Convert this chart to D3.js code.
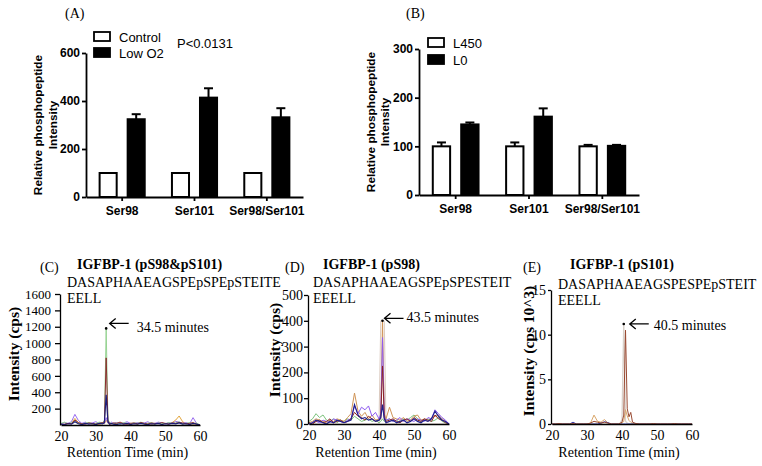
<!DOCTYPE html>
<html>
<head>
<meta charset="utf-8">
<script src="https://cdn.jsdelivr.net/npm/d3@7/dist/d3.min.js"></script>
<style>
  body { margin: 0; background: #fff; }
  svg { display: block; }
</style>
</head>
<body>
<svg id="fig" width="762" height="466"></svg>
<script>
// ---------- bar chart data (A, B) ----------
const groups = ["Ser98", "Ser101", "Ser98/Ser101"];

const aControl = [100, 100, 100];
const aControlErr = [0, 0, 0];
const aLowO2 = [324, 414, 332];
const aLowO2Err = [21, 39, 38];

const bL450 = [100, 100, 100];
const bL450Err = [8, 8, 3];
const bL0 = [145, 161, 101];
const bL0Err = [4, 17, 2];

// ---------- chromatogram data (C, D, E) ----------
const tC = [20,21,22,23,24,25,26,27,28,29,30,31,32,32.5,33,33.5,34,34.5,35,36,37,38,39,40,41,42,43,44,45,46,47,48,49,50,51,52,53,54,55,56,57,58,59,60];
const cGreen  = [20,35,15,30,45,20,10,25,30,15,20,35,25, 60,1180,70,30,20, 15,25,10,30,20,15,25,20,35,15,20,30,10,25,20,15,30,20,25,40,15,20,30,15,25,0];
const cRed    = [5,10,20,15,60,30,15,10,25,20,10,20,30, 40,820,50,20,15, 25,20,35,15,10,20,25,15,30,20,10,25,20,15,30,20,10,25,20,30,25,15,20,30,10,0];
const cPurple = [15,30,20,40,130,55,20,35,15,25,40,20,30, 20,90,25,15,35, 20,30,15,25,40,20,15,30,20,25,40,15,20,35,25,15,30,20,45,35,20,30,15,90,20,0];
const cOrange = [10,5,15,20,80,25,10,15,20,10,15,5,20, 15,60,20,10,15, 20,10,25,15,10,20,15,10,25,15,20,10,15,25,10,20,15,30,60,110,40,15,20,10,15,0];
const cNavy   = [10,5,15,10,40,15,5,20,10,15,5,20,15, 30,370,40,10,20, 10,5,15,10,20,5,15,10,20,10,5,15,10,20,5,15,10,20,15,25,10,15,5,20,10,0];

const tD = [20,21,22,23,24,25,26,27,28,29,30,31,32,33,34,35,36,37,38,39,40,40.5,41,41.5,42,43,44,45,46,47,48,49,50,51,52,53,54,55,56,57,58,59,60];
const dLight  = [0,0,0,0,0,0,0,0,0,0,0,0,0,0,0,0,0,0,0,0,0, 400,400,400, 0,0,0,0,0,0,0,0,0,0,0,0,0,0,0,0,0,0,0];
const dGreen  = [10,20,40,25,35,15,10,20,5,15,10,20,15,30,20,10,15,20,10,15,5, 10,20,10, 15,20,10,15,5,20,15,25,35,20,10,15,20,10,15,25,10,5,0];
const dTan    = [5,10,20,15,10,5,15,10,20,15,10,25,40,120,50,30,45,20,35,15,20, 30,400,40, 20,65,25,20,15,25,10,15,30,35,15,20,10,25,30,35,20,10,0];
const dPurple = [0,5,10,5,15,10,5,20,15,10,5,15,20,70,40,65,55,70,30,45,20, 40,335,30, 15,20,10,15,25,10,20,15,10,20,15,10,25,20,55,40,25,15,0];
const dRed    = [5,0,10,15,5,10,20,5,10,15,5,10,20,45,30,25,15,30,20,10,15, 20,225,25, 10,15,20,10,5,15,20,10,25,15,10,20,15,10,35,20,15,5,0];
const dNavy   = [0,5,15,10,5,0,10,5,15,10,5,10,15,75,35,20,25,15,20,10,15, 25,75,20, 5,10,15,5,10,15,5,10,20,10,5,15,10,20,50,30,15,10,0];

const tE = [20,21,22,23,24,25,26,27,28,29,30,31,32,33,34,35,36,37,38,39,39.5,40,40.5,41,41.5,42,42.5,43,44,45,46,47,48,49,50,51,52,53,54,55,56,57,58,59,60];
const eGrey  = [0,0,0,0,0,0,0,0,0,0,0,0,0,0,0,0,0,0,0,0, 0.1,0.5,11.2,0.3,0.1,0,0, 0,0,0,0,0,0,0,0,0,0,0,0,0,0,0,0,0,0];
const eTan   = [0,0,0,0,0,0,0,0,0,0,0,0.1,1.0,0.3,0.2,0.5,0.1,0,0,0, 0,0.1,0.3,1.6,0.9,0.4,0.2, 0.05,0,0,0,0,0,0,0,0,0,0,0,0,0,0,0,0,0];
const eBrown = [0,0,0.05,0,0,0,0.05,0,0,0,0,0.1,0.3,0.2,0.1,0.2,0.1,0,0,0, 0.1,0.2,1.0,10.5,1.7,0.8,1.3, 0.2,0.05,0,0,0,0,0.05,0,0,0,0,0,0.05,0,0,0,0,0];
const eNavy  = [0,0,0,0,0,0,0.2,0,0,0,0,0,0,0,0.1,0.25,0.15,0,0,0, 0,0,0,0,0,0,0, 0,0,0,0,0,0,0,0,0,0,0,0,0,0,0,0,0,0];

const SANS = "'Liberation Sans', Arial, sans-serif";
const SERIF = "'Liberation Serif', 'Times New Roman', serif";

const svg = d3.select("#fig");
svg.append("rect").attr("width", 762).attr("height", 466).attr("fill", "#fff");


// ---------- bar panels ----------
function barPanel(p) {
    const g = svg.append("g");

    const x0 = d3.scaleBand().domain(groups).range([p.left, p.right]).padding(0);
    const x1 = d3.scaleBand().domain([0, 1]).range([0, x0.bandwidth()])
        .paddingInner(0.32).paddingOuter(0.45);
    const y = d3.scaleLinear().domain([0, p.max]).range([p.bottom, p.top]);

    p.series.forEach((s, si) => {
        groups.forEach((grp, gi) => {
            const bx = x0(grp) + x1(si);
            const cx = bx + x1.bandwidth() / 2;
            g.append("rect")
                .attr("x", bx + 1)
                .attr("y", y(s.vals[gi]))
                .attr("width", x1.bandwidth() - 2)
                .attr("height", y(0) - y(s.vals[gi]))
                .attr("fill", s.fill)
                .attr("stroke", "#000")
                .attr("stroke-width", 2);
            if (s.errs[gi] > 0) {
                g.append("line")
                    .attr("x1", cx).attr("x2", cx)
                    .attr("y1", y(s.vals[gi])).attr("y2", y(s.vals[gi] + s.errs[gi]))
                    .attr("stroke", "#000").attr("stroke-width", 2);
                g.append("line")
                    .attr("x1", cx - 4.5).attr("x2", cx + 4.5)
                    .attr("y1", y(s.vals[gi] + s.errs[gi])).attr("y2", y(s.vals[gi] + s.errs[gi]))
                    .attr("stroke", "#000").attr("stroke-width", 2);
            }
        });
    });

    const yAxis = g.append("g")
        .attr("transform", `translate(${p.left},0)`)
        .call(d3.axisLeft(y).tickValues(p.ticks).tickSize(4).tickSizeOuter(0).tickPadding(2));
    const xAxis = g.append("g")
        .attr("transform", `translate(0,${p.bottom})`)
        .call(d3.axisBottom(x0).tickSize(4).tickSizeOuter(0).tickPadding(5));

    [yAxis, xAxis].forEach(a => {
        a.selectAll("path, line").attr("stroke", "#000").attr("stroke-width", 1.8);
        a.selectAll("text")
            .attr("fill", "#000")
            .style("font-family", SANS)
            .style("font-size", "12px")
            .style("font-weight", "bold");
    });

    // y label, two lines
    p.ylab.forEach((txt, i) => {
        g.append("text")
            .attr("transform", `translate(${p.ylabX[i]},${(p.top + p.bottom) / 2}) rotate(-90)`)
            .attr("text-anchor", "middle")
            .style("font-family", SANS)
            .style("font-size", "11.8px")
            .style("font-weight", "bold")
            .text(txt);
    });

    // legend
    p.series.forEach((s, si) => {
        g.append("rect")
            .attr("x", p.legX).attr("y", p.legY[si])
            .attr("width", 16).attr("height", 9)
            .attr("fill", s.fill).attr("stroke", "#000").attr("stroke-width", 1.8);
        g.append("text")
            .attr("x", p.legX + 25).attr("y", p.legY[si] + 9.5)
            .style("font-family", SANS)
            .style("font-size", "13px")
            .text(s.name);
    });

    g.append("text")
        .attr("x", p.tagX).attr("y", 18)
        .style("font-family", SERIF)
        .style("font-size", "14px")
        .text(p.tag);
    return g;
}

const panelA = barPanel({
    left: 86, right: 303, top: 53, bottom: 197, max: 600, ticks: [0, 200, 400, 600],
    series: [
        { name: "Control", vals: aControl, errs: aControlErr, fill: "#fff" },
        { name: "Low O2", vals: aLowO2, errs: aLowO2Err, fill: "#000" }
    ],
    ylab: ["Relative phosphopeptide", "Intensity"], ylabX: [42, 57],
    legX: 94, legY: [32, 48], tag: "(A)", tagX: 65
});
panelA.append("text")
    .attr("x", 177).attr("y", 48)
    .style("font-family", SANS)
    .style("font-size", "13px")
    .text("P<0.0131");

barPanel({
    left: 419, right: 639, top: 49, bottom: 195, max: 300, ticks: [0, 100, 200, 300],
    series: [
        { name: "L450", vals: bL450, errs: bL450Err, fill: "#fff" },
        { name: "L0", vals: bL0, errs: bL0Err, fill: "#000" }
    ],
    ylab: ["Relative phosphopeptide", "Intensity"], ylabX: [375, 389],
    legX: 428, legY: [38, 55], tag: "(B)", tagX: 406
});


// ---------- chromatogram panels ----------
function chromPanel(p) {
    const g = svg.append("g");
    const x = d3.scaleLinear().domain([20, 60]).range(p.xr);
    const y = d3.scaleLinear().domain([0, p.ymax]).range(p.yr);

    const line = d3.line()
        .x(d => x(d[0]))
        .y(d => y(d[1]));

    p.series.forEach(s => {
        g.append("path")
            .datum(p.times.map((t, i) => [t, s.vals[i]]))
            .attr("d", line)
            .attr("fill", "none")
            .attr("stroke", s.color)
            .attr("stroke-width", s.w || 1);
    });

    const yAxis = g.append("g")
        .attr("transform", `translate(${p.xr[0] - 1},0)`)
        .call(d3.axisLeft(y).tickValues(p.yticks).tickFormat(d3.format("d"))
            .tickSize(p.tick).tickSizeOuter(0).tickPadding(p.pad));
    const xAxis = g.append("g")
        .attr("transform", `translate(0,${p.yr[0]})`)
        .call(d3.axisBottom(x).tickValues([20, 30, 40, 50, 60]).tickSize(0).tickPadding(6));

    [yAxis, xAxis].forEach(a => {
        a.selectAll("path, line").attr("stroke", "#000").attr("stroke-width", 1.3);
        a.selectAll("text")
            .attr("fill", "#000")
            .style("font-family", SERIF)
            .style("font-size", "14px");
    });
    yAxis.selectAll("text").style("font-size", p.yFont);

    g.append("text")
        .attr("x", (p.xr[0] + p.xr[1]) / 2 - 3).attr("y", 457)
        .attr("text-anchor", "middle")
        .style("font-family", SERIF).style("font-size", "14px")
        .text("Retention Time (min)");

    g.append("text")
        .attr("transform", `translate(${p.ylabX},${p.ylabY}) rotate(-90)`)
        .attr("text-anchor", "middle")
        .style("font-family", SERIF).style("font-size", "15.5px").style("font-weight", "bold")
        .text(p.ylab);

    // panel letter, title and peptide sequence
    g.append("text").attr("x", p.tagX).attr("y", 272)
        .style("font-family", SERIF).style("font-size", "14px").text(p.tag);
    g.append("text").attr("x", p.titleX).attr("y", 269)
        .style("font-family", SERIF).style("font-size", "14px").style("font-weight", "bold")
        .text(p.title);
    p.seq.forEach((s, i) => {
        g.append("text").attr("x", p.seqX).attr("y", p.seqY + i * 16)
            .style("font-family", SERIF).style("font-size", "14px").text(s);
    });

    // peak marker + arrow label
    const top = p.series[p.peakSeries];
    const pi = d3.maxIndex(top.vals);
    const px = x(p.times[pi]), py = y(top.vals[pi]);
    g.append("circle").attr("cx", px).attr("cy", py).attr("r", 1.3).attr("fill", "#000");
    const hx = px + p.arr[0], hy = py + p.arr[1];
    g.append("path")
        .attr("d", `M${hx + 19},${hy}L${hx},${hy}M${hx + 6},${hy - 5}L${hx},${hy}L${hx + 6},${hy + 5}`)
        .attr("fill", "none").attr("stroke", "#000").attr("stroke-width", 1.3);
    g.append("text").attr("x", hx + p.arr[2]).attr("y", py + p.arr[3])
        .style("font-family", SERIF).style("font-size", "14px").text(p.peakLabel);
}

chromPanel({
    xr: [61, 200], yr: [425, 294], ymax: 1600,
    yticks: [200, 400, 600, 800, 1000, 1200, 1400, 1600], tick: 5, pad: 4, yFont: "13px",
    times: tC,
    series: [
        { vals: cOrange, color: "#e3a53c" },
        { vals: cPurple, color: "#9a6cf0" },
        { vals: cGreen, color: "#96d392" },
        { vals: cRed, color: "#8a2e2e" },
        { vals: cNavy, color: "#1e1e78", w: 1.2 }
    ],
    peakSeries: 2, arr: [3.5, -5, 27, 4], peakLabel: "34.5 minutes",
    ylab: "Intensity (cps)", ylabX: 19, ylabY: 354,
    tag: "(C)", tagX: 40, title: "IGFBP-1 (pS98&pS101)", titleX: 77,
    seq: ["DASAPHAAEAGSPEpSPEpSTEITE", "EELL"], seqX: 67, seqY: 287
});

chromPanel({
    xr: [309, 449], yr: [424, 295], ymax: 500,
    yticks: [0, 100, 200, 300, 400, 500], tick: 4, pad: 1, yFont: "14px",
    times: tD,
    series: [
        { vals: dLight, color: "#dccbc0" },
        { vals: dGreen, color: "#7cc27c" },
        { vals: dTan, color: "#d09456" },
        { vals: dPurple, color: "#8f5cf0" },
        { vals: dRed, color: "#8b2424" },
        { vals: dNavy, color: "#22228e", w: 1.2 }
    ],
    peakSeries: 2, arr: [2, -2.5, 22, 1.5], peakLabel: "43.5 minutes",
    ylab: "Intensity (cps)", ylabX: 280, ylabY: 350,
    tag: "(D)", tagX: 285, title: "IGFBP-1 (pS98)", titleX: 323,
    seq: ["DASAPHAAEAGSPEpSPESTEIT", "EEELL"], seqX: 313, seqY: 287
});

chromPanel({
    xr: [552, 692], yr: [424, 290], ymax: 15,
    yticks: [0, 5, 10, 15], tick: 3, pad: 2, yFont: "14px",
    times: tE,
    series: [
        { vals: eGrey, color: "#d9d1ca", w: 1.3 },
        { vals: eTan, color: "#d9a66a" },
        { vals: eNavy, color: "#3a3aa8" },
        { vals: eBrown, color: "#9a4a32" }
    ],
    peakSeries: 0, arr: [6, 0, 24, 6], peakLabel: "40.5 minutes",
    ylab: "Intensity (cps 10^3)", ylabX: 534, ylabY: 351,
    tag: "(E)", tagX: 523, title: "IGFBP-1 (pS101)", titleX: 570,
    seq: ["DASAPHAAEAGSPESPEpSTEIT", "EEELL"], seqX: 558, seqY: 289
});
</script>
</body>
</html>
